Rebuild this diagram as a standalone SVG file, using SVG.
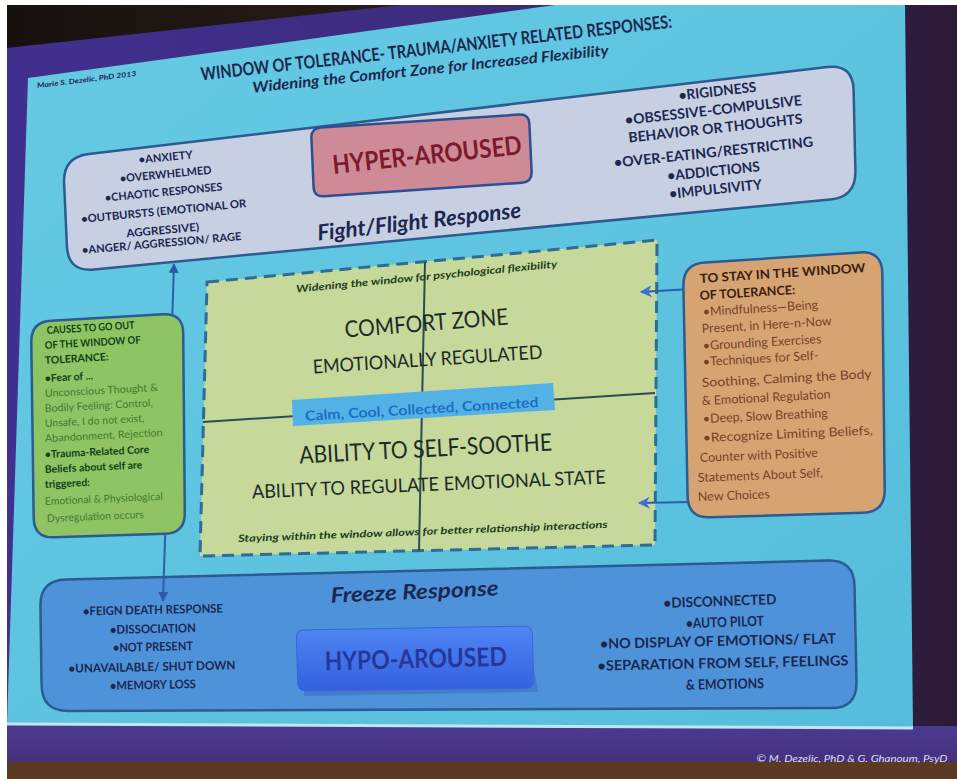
<svg xmlns="http://www.w3.org/2000/svg" width="957" height="779" viewBox="0 0 957 779">
<defs>
<linearGradient id="slideG" x1="0" y1="0" x2="1" y2="1"><stop offset="0" stop-color="#66cae4"/><stop offset="1" stop-color="#55bddb"/></linearGradient>
<linearGradient id="hypoG" x1="0" y1="0" x2="0" y2="1"><stop offset="0" stop-color="#4f86f3"/><stop offset="1" stop-color="#3560e0"/></linearGradient>
<linearGradient id="topG" x1="0" y1="0" x2="1" y2="0"><stop offset="0" stop-color="#15110f"/><stop offset="1" stop-color="#2a1c18"/></linearGradient>
<linearGradient id="rightG" x1="0" y1="0" x2="1" y2="0"><stop offset="0" stop-color="#41308f"/><stop offset="0.6" stop-color="#3b2a78"/><stop offset="1" stop-color="#2c1a36"/></linearGradient>
<linearGradient id="botG" x1="0" y1="0" x2="0" y2="1"><stop offset="0" stop-color="#4a3a90"/><stop offset="1" stop-color="#46307a"/></linearGradient>
<marker id="ah" viewBox="0 0 10 10" refX="9" refY="5" markerWidth="5" markerHeight="5" orient="auto-start-reverse"><path d="M0,0 L10,5 L0,10 z" fill="#2c5aa8"/></marker>
<marker id="ah2" viewBox="0 0 10 10" refX="9" refY="5" markerWidth="6" markerHeight="6" orient="auto-start-reverse"><path d="M0,0 L10,5 L0,10 L3,5 z" fill="#3d6fd8"/></marker>
<style>
.tx{font-family:Lato,'Liberation Sans',Arial,sans-serif}
.c{text-anchor:middle}
.b{font-weight:700}
.i{font-style:italic}
.nv{fill:#1c2750}
.hl{font-size:11px}
.hr{font-size:14px}
.ct{fill:#1d2b28}
.gd{fill:#143f16;font-weight:700;font-size:10.5px}
.gl{fill:#3f7c2b;font-size:10.5px}
.oh{fill:#3a1e10;font-weight:700;font-size:12.5px}
.ob{fill:#734326;font-size:12.5px}
.fl{font-size:12px}
.fr{font-size:14px}
.edge{stroke:#2b5b90;stroke-width:2.5}
.cn{fill:none;stroke:#2d5ea6;stroke-width:2}
</style>
</defs>

<!-- background / photo surround -->
<rect x="0" y="0" width="957" height="779" fill="#ffffff"/>
<rect x="7" y="5" width="950" height="774" fill="url(#rightG)"/>
<polygon points="7,5 400,5 7,48" fill="url(#topG)"/>
<rect x="7" y="726" width="950" height="38" fill="url(#botG)"/>
<rect x="7" y="762" width="950" height="17" fill="#5a3a22"/>
<polygon points="28,78 555,5 905,5 913,728 7,724" fill="url(#slideG)"/>
<line x1="7" y1="724" x2="913" y2="728" stroke="#bfe6f2" stroke-width="3"/>

<!-- title -->
<g id="title">
<text class="tx b nv c" font-size="18" transform="translate(437,54) rotate(-6.4)" textLength="474" lengthAdjust="spacingAndGlyphs">WINDOW OF TOLERANCE- TRAUMA/ANXIETY RELATED RESPONSES:</text>
<text class="tx b i nv c" font-size="15" transform="translate(431,74) rotate(-6)" textLength="358" lengthAdjust="spacingAndGlyphs">Widening the Comfort Zone for Increased Flexibility</text>
<text class="tx b i nv c" font-size="7" transform="translate(87,82) rotate(-7)" textLength="100" lengthAdjust="spacingAndGlyphs">Marie S. Dezelic, PhD 2013</text>
</g>

<!-- center comfort zone -->
<g id="comfort-zone">
<polygon points="207,282 657,240 655,545 200,556" fill="#c6d99b" stroke="#2e6c94" stroke-width="3" stroke-dasharray="12,7"/>
<line x1="425" y1="262" x2="419" y2="551" stroke="#2f4a52" stroke-width="2"/>
<line x1="203" y1="422" x2="655" y2="393" stroke="#2f4a52" stroke-width="2"/>
<polygon points="292,400 553,383 555,410 293,426" fill="#52b2e6"/>
<text class="tx b c" font-size="14" fill="#1c6fc2" transform="translate(422,414) rotate(-3.4)" textLength="234" lengthAdjust="spacingAndGlyphs">Calm, Cool, Collected, Connected</text>
<text class="tx b i c" font-size="10" fill="#1f3d1a" transform="translate(427,280) rotate(-5.5)" textLength="262" lengthAdjust="spacingAndGlyphs">Widening the window for psychological flexibility</text>
<text class="tx ct c" font-size="23" transform="translate(427,331) rotate(-4.6)" textLength="164" lengthAdjust="spacingAndGlyphs">COMFORT ZONE</text>
<text class="tx ct c" font-size="19" transform="translate(428,366) rotate(-3.7)" textLength="230" lengthAdjust="spacingAndGlyphs">EMOTIONALLY REGULATED</text>
<text class="tx ct c" font-size="24" transform="translate(426,457) rotate(-3)" textLength="253" lengthAdjust="spacingAndGlyphs">ABILITY TO SELF-SOOTHE</text>
<text class="tx ct c" font-size="19" transform="translate(429,491) rotate(-2.4)" textLength="354" lengthAdjust="spacingAndGlyphs">ABILITY TO REGULATE EMOTIONAL STATE</text>
<text class="tx b i c" font-size="10" fill="#1f3d1a" transform="translate(423,535) rotate(-2.2)" textLength="370" lengthAdjust="spacingAndGlyphs">Staying within the window allows for better relationship interactions</text>
</g>

<!-- freeze / hypo-aroused -->
<g id="hypo-aroused">
<path class="edge" fill="#4e93da" d="M66,579.4 L828,560.6 Q854,560 854.5,586 L856.5,682 Q857,708 831,708.1 L68,710.9 Q42,711 41.6,685 L40.4,606 Q40,580 66,579.4 Z"/>
<path fill="#2f57b0" opacity="0.35" d="M306,634 L528,630 L538,692 L304,696 Z"/>
<path fill="url(#hypoG)" stroke="#3a66d6" stroke-width="1" d="M304,629.9 L524,626.1 Q532,626 532.3,634 L533.7,680 Q534,688 526,688.1 L306,690.9 Q298,691 297.7,683 L296.3,638 Q296,630 304,629.9 Z"/>
<text class="tx b c" font-size="26" fill="#25389a" transform="translate(416,668) rotate(-1.5)" textLength="182" lengthAdjust="spacingAndGlyphs">HYPO-AROUSED</text>
<text class="tx b i nv c" font-size="21" transform="translate(415,599) rotate(-2.5)" textLength="168" lengthAdjust="spacingAndGlyphs">Freeze Response</text>
<text class="tx b nv c fl" transform="translate(153,614) rotate(-1.2)" textLength="140" lengthAdjust="spacingAndGlyphs">•FEIGN DEATH RESPONSE</text>
<text class="tx b nv c fl" transform="translate(153,633) rotate(-1.2)" textLength="86" lengthAdjust="spacingAndGlyphs">•DISSOCIATION</text>
<text class="tx b nv c fl" transform="translate(153,651) rotate(-1.2)" textLength="80" lengthAdjust="spacingAndGlyphs">•NOT PRESENT</text>
<text class="tx b nv c fl" transform="translate(152,671) rotate(-1.2)" textLength="167" lengthAdjust="spacingAndGlyphs">•UNAVAILABLE/ SHUT DOWN</text>
<text class="tx b nv c fl" transform="translate(153,689) rotate(-1.2)" textLength="86" lengthAdjust="spacingAndGlyphs">•MEMORY LOSS</text>
<text class="tx b nv c fr" transform="translate(720,606) rotate(-2)" textLength="113" lengthAdjust="spacingAndGlyphs">•DISCONNECTED</text>
<text class="tx b nv c fr" transform="translate(725,627) rotate(-1.8)" textLength="78" lengthAdjust="spacingAndGlyphs">•AUTO PILOT</text>
<text class="tx b nv c fr" transform="translate(718,646) rotate(-1.3)" textLength="236" lengthAdjust="spacingAndGlyphs">•NO DISPLAY OF EMOTIONS/ FLAT</text>
<text class="tx b nv c fr" transform="translate(723,668) rotate(-1.2)" textLength="251" lengthAdjust="spacingAndGlyphs">•SEPARATION FROM SELF, FEELINGS</text>
<text class="tx b nv c fr" transform="translate(725,689) rotate(-1.2)" textLength="78" lengthAdjust="spacingAndGlyphs">&amp; EMOTIONS</text>
</g>

<!-- connectors -->
<g id="connectors">
<line class="cn" x1="174" y1="264" x2="163" y2="601" marker-start="url(#ah)" marker-end="url(#ah)"/>
<line class="cn" x1="690" y1="289" x2="641" y2="292" stroke="#2c4f96" marker-end="url(#ah2)"/>
<line class="cn" x1="690" y1="502" x2="639" y2="503" stroke="#2c4f96" marker-end="url(#ah2)"/>
</g>

<!-- causes box -->
<g id="causes">
<path class="edge" fill="#8ec464" d="M51,320.8 L163,314.2 Q183,313 183.2,333 L184.8,513 Q185,533 165,533.7 L54,537.3 Q34,538 33.7,518 L31.3,342 Q31,322 51,320.8 Z"/>
<text class="tx gd" transform="translate(47,334) rotate(-3.5)" textLength="88" lengthAdjust="spacingAndGlyphs">CAUSES TO GO OUT</text>
<text class="tx gd" transform="translate(45,349) rotate(-3.4)" textLength="96" lengthAdjust="spacingAndGlyphs">OF THE WINDOW OF</text>
<text class="tx gd" transform="translate(45,364) rotate(-3.3)">TOLERANCE:</text>
<text class="tx gd" transform="translate(45,382) rotate(-3.2)">•Fear of ...</text>
<text class="tx gl" transform="translate(45,397) rotate(-3.1)" textLength="113" lengthAdjust="spacingAndGlyphs">Unconscious Thought &amp;</text>
<text class="tx gl" transform="translate(45,412) rotate(-3)" textLength="108" lengthAdjust="spacingAndGlyphs">Bodily Feeling: Control,</text>
<text class="tx gl" transform="translate(45,427) rotate(-3)">Unsafe, I do not exist,</text>
<text class="tx gl" transform="translate(45,442) rotate(-2.9)" textLength="118" lengthAdjust="spacingAndGlyphs">Abandonment, Rejection</text>
<text class="tx gd" transform="translate(45,458) rotate(-2.8)">•Trauma-Related Core</text>
<text class="tx gd" transform="translate(45,473) rotate(-2.7)">Beliefs about self are</text>
<text class="tx gd" transform="translate(45,488) rotate(-2.6)">triggered:</text>
<text class="tx gl" transform="translate(45,505) rotate(-2.5)" textLength="118" lengthAdjust="spacingAndGlyphs">Emotional &amp; Physiological</text>
<text class="tx gl" transform="translate(47,522) rotate(-2.4)">Dysregulation occurs</text>
</g>

<!-- stay in window box -->
<g id="stay">
<path class="edge" stroke="#3558a0" fill="#d6a373" d="M705,262.6 L860,252.4 Q882,251 882.3,273 L884.7,490 Q885,512 863,512.7 L710,517.3 Q688,518 687.6,496 L683.4,286 Q683,264 705,262.6 Z"/>
<text class="tx oh" transform="translate(700,283) rotate(-3.8)" textLength="166" lengthAdjust="spacingAndGlyphs">TO STAY IN THE WINDOW</text>
<text class="tx oh" transform="translate(700,300) rotate(-3.6)">OF TOLERANCE:</text>
<text class="tx ob" transform="translate(703,316) rotate(-3.5)">•Mindfulness—Being</text>
<text class="tx ob" transform="translate(702,333) rotate(-3.4)">Present, in Here-n-Now</text>
<text class="tx ob" transform="translate(703,350) rotate(-3.3)">•Grounding Exercises</text>
<text class="tx ob" transform="translate(703,366) rotate(-3.2)">•Techniques for Self-</text>
<text class="tx ob" transform="translate(702,387) rotate(-3)" textLength="170" lengthAdjust="spacingAndGlyphs">Soothing, Calming the Body</text>
<text class="tx ob" transform="translate(702,405) rotate(-2.9)">&amp; Emotional Regulation</text>
<text class="tx ob" transform="translate(703,423) rotate(-2.7)">•Deep, Slow Breathing</text>
<text class="tx ob" transform="translate(703,442) rotate(-2.5)" textLength="170" lengthAdjust="spacingAndGlyphs">•Recognize Limiting Beliefs,</text>
<text class="tx ob" transform="translate(700,462) rotate(-2.4)">Counter with Positive</text>
<text class="tx ob" transform="translate(698,482) rotate(-2.3)">Statements About Self,</text>
<text class="tx ob" transform="translate(698,501) rotate(-2.2)">New Choices</text>
</g>

<!-- hyper-aroused box -->
<g id="hyper-aroused">
<path class="edge" fill="#c6d0e2" d="M88.8,154 L827.2,67 Q853,64 853.6,90 L855.4,171 Q856,197 830.1,199.5 L93.9,269.5 Q68,272 66.9,246 L64.1,183 Q63,157 88.8,154 Z"/>
<path fill="#cf8a98" stroke="#2d4f8f" stroke-width="2.5" d="M321,127.4 L519,114.6 Q529,114 529.4,124 L531.6,172 Q532,182 522,182.7 L324,196.3 Q314,197 313.6,187 L311.4,138 Q311,128 321,127.4 Z"/>
<text class="tx b c" font-size="26" fill="#7a1a2c" transform="translate(428,164) rotate(-6)" textLength="190" lengthAdjust="spacingAndGlyphs">HYPER-AROUSED</text>
<text class="tx b i nv c" font-size="22" transform="translate(420,229) rotate(-6.5)" textLength="205" lengthAdjust="spacingAndGlyphs">Fight/Flight Response</text>
<text class="tx b nv c hl" transform="translate(166,161) rotate(-5.5)" textLength="54" lengthAdjust="spacingAndGlyphs">•ANXIETY</text>
<text class="tx b nv c hl" transform="translate(166,178) rotate(-5.5)" textLength="92" lengthAdjust="spacingAndGlyphs">•OVERWHELMED</text>
<text class="tx b nv c hl" transform="translate(164,196) rotate(-5.5)" textLength="118" lengthAdjust="spacingAndGlyphs">•CHAOTIC RESPONSES</text>
<text class="tx b nv c hl" transform="translate(164,215) rotate(-5.5)" textLength="166" lengthAdjust="spacingAndGlyphs">•OUTBURSTS (EMOTIONAL OR</text>
<text class="tx b nv c hl" transform="translate(163,234) rotate(-5.2)" textLength="73" lengthAdjust="spacingAndGlyphs">AGGRESSIVE)</text>
<text class="tx b nv c hl" transform="translate(162,247) rotate(-5)" textLength="160" lengthAdjust="spacingAndGlyphs">•ANGER/ AGGRESSION/ RAGE</text>
<text class="tx b nv c hr" transform="translate(718,96) rotate(-6.5)" textLength="78" lengthAdjust="spacingAndGlyphs">•RIGIDNESS</text>
<text class="tx b nv c hr" transform="translate(714,115) rotate(-6.4)" textLength="178" lengthAdjust="spacingAndGlyphs">•OBSESSIVE-COMPULSIVE</text>
<text class="tx b nv c hr" transform="translate(716,133) rotate(-6.3)" textLength="175" lengthAdjust="spacingAndGlyphs">BEHAVIOR OR THOUGHTS</text>
<text class="tx b nv c hr" transform="translate(714,157) rotate(-6.1)" textLength="200" lengthAdjust="spacingAndGlyphs">•OVER-EATING/RESTRICTING</text>
<text class="tx b nv c hr" transform="translate(714,176) rotate(-6)" textLength="93" lengthAdjust="spacingAndGlyphs">•ADDICTIONS</text>
<text class="tx b nv c hr" transform="translate(716,194) rotate(-6)" textLength="93" lengthAdjust="spacingAndGlyphs">•IMPULSIVITY</text>
</g>

<g id="credit">
<text class="tx i c" font-size="9" fill="#dcdcf2" x="852" y="762" textLength="191" lengthAdjust="spacingAndGlyphs">© M. Dezelic, PhD &amp; G. Ghanoum, PsyD</text>
</g>
</svg>
